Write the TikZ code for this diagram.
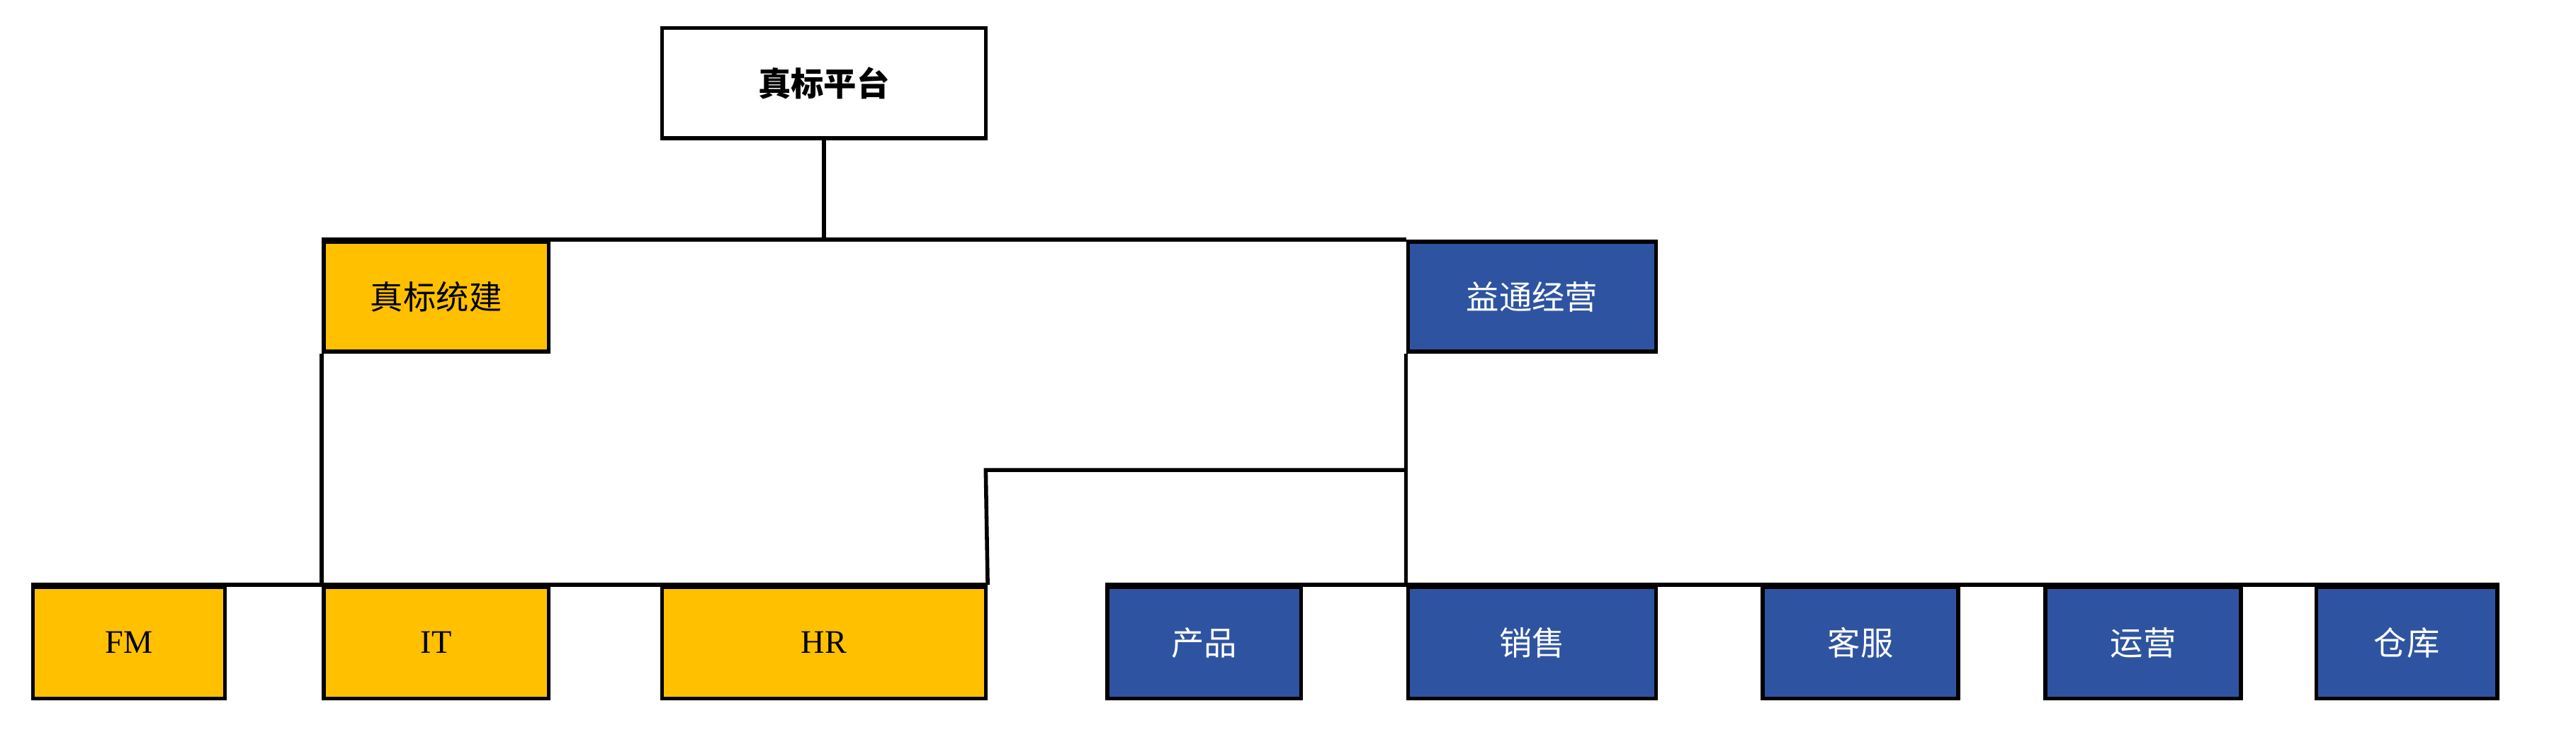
\documentclass[tikz,border=0pt]{standalone}
\usepackage{fontspec}
\newfontfamily\cjk{Noto Sans CJK SC}
\setmainfont{Liberation Serif}
\definecolor{yel}{HTML}{FFC000}
\definecolor{blu}{HTML}{2E54A1}
\begin{document}
\begin{tikzpicture}[x=1pt,y=-1pt,line width=2.4pt,
  box/.style={draw=black,inner sep=0pt,font=\fontsize{20}{24}\selectfont},
  ybox/.style={box,fill=yel,text=black},
  bbox/.style={box,fill=blu,text=white}]
\useasboundingbox (0,0) rectangle (1568,450);
\newcommand\bx[6]{\node[#1,minimum width=#4-#3,minimum height=#6-#5] (#2) at ({(#3+#4)/2},{(#5+#6)/2})}
\bx{box,font=\cjk\bfseries\fontsize{20}{24}\selectfont}{top}{403}{600}{17}{84} {真标平台};
\bx{ybox,font=\cjk\fontsize{20}{24}\selectfont}{zb}{197}{334}{147}{214} {真标统建};
\bx{bbox,font=\cjk\fontsize{20}{24}\selectfont}{yt}{857}{1008}{147}{214} {益通经营};
\bx{ybox}{fm}{20}{137}{357}{425} {FM};
\bx{ybox}{it}{197}{334}{357}{425} {IT};
\bx{ybox}{hr}{403}{600}{357}{425} {HR};
\bx{bbox,font=\cjk\fontsize{20}{24}\selectfont}{cp}{674}{792}{357}{425} {产品};
\bx{bbox,font=\cjk\fontsize{20}{24}\selectfont}{xs}{857}{1008}{357}{425} {销售};
\bx{bbox,font=\cjk\fontsize{20}{24}\selectfont}{kf}{1073}{1192}{357}{425} {客服};
\bx{bbox,font=\cjk\fontsize{20}{24}\selectfont}{yy}{1245}{1364}{357}{425} {运营};
\bx{bbox,font=\cjk\fontsize{20}{24}\selectfont}{ck}{1410}{1520}{357}{425} {仓库};
\coordinate (j) at (600,286);
\draw (top.south) -- (top.south |- zb.north);
\draw (zb.north west) -- (yt.north west);
\draw (zb.south west) -- (it.north west);
\draw (yt.south west) -- (xs.north west);
\draw (yt.west |- j) -- (j) -- (hr.north east);
\draw (fm.north west) -- (hr.north east);
\draw (cp.north west) -- (ck.north east);
\end{tikzpicture}
\end{document}
